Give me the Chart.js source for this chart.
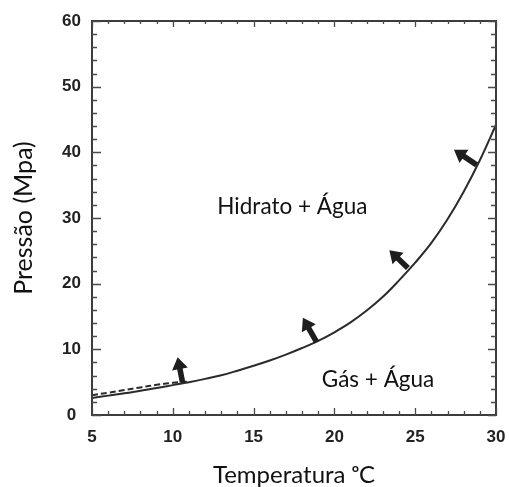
<!DOCTYPE html>
<html>
<head>
<meta charset="utf-8">
<script src="https://cdn.jsdelivr.net/npm/chart.js@4/dist/chart.umd.min.js"></script>
<style>
  html, body { margin: 0; padding: 0; background: #fff; }
  #wrap { width: 509px; height: 487px; }
</style>
</head>
<body>
<div id="wrap"><canvas id="c" width="509" height="487"></canvas></div>
<script>
// Temperature (°C) and equilibrium pressure (MPa)
const temperatures = [5,6,7,8,9,10,11,12,13,14,15,16,17,18,19,20,21,22,23,24,25,26,27,28,29,30];
const pressureSolid = [2.6,2.95,3.3,3.7,4.1,4.55,5.0,5.5,6.05,6.75,7.5,8.3,9.2,10.2,11.3,12.6,14.1,15.9,18.0,20.5,23.2,26.2,29.8,34.0,38.8,44.2];
const dashedTemps = [5,6,7,8,9,10,11];
const pressureDashed = [3.0,3.4,3.8,4.2,4.6,4.9,5.1];

// Arrows: start (on curve) and tip
const arrowFromT = [10.6, 18.9, 24.55, 28.8];
const arrowFromP = [5.0, 11.1, 22.4, 38.1];
const arrowToT = [10.3, 18.05, 23.4, 27.4];
const arrowToP = [8.8, 14.8, 25.1, 40.4];

// Region labels
const regionLabels = ['Hidrato + Água', 'Gás + Água'];
const regionLabelT = [17.4, 22.7];
const regionLabelP = [30.6, 4.3];

const xTicks = [5,10,15,20,25,30];
const yTicks = [0,10,20,30,40,50,60];

const xTitle = 'Temperatura ᵒC';
const yTitle = 'Pressão (Mpa)';

const INK = '#2b2b2b';

const framePlugin = {
  id: 'frameTicks',
  afterDatasetsDraw(chart) {
    const ctx = chart.ctx;
    const xs = chart.scales.x, ys = chart.scales.y;
    const a = chart.chartArea;
    ctx.save();
    // frame
    ctx.strokeStyle = '#3c3c3c';
    ctx.lineWidth = 2;
    ctx.strokeRect(a.left, a.top, a.right - a.left, a.bottom - a.top);
    ctx.lineWidth = 1.3;
    ctx.strokeStyle = '#4a4a4a';
    // x ticks every 1, major every 5
    for (let t = xs.min; t <= xs.max + 1e-9; t += 1) {
      const px = Math.round(xs.getPixelForValue(t)) + 0.5;
      const major = Math.abs(t % 5) < 1e-9;
      ctx.beginPath();
      ctx.moveTo(px, a.bottom); ctx.lineTo(px, a.bottom - (major ? 7 : 4));
      ctx.moveTo(px, a.top); ctx.lineTo(px, a.top + (major ? 6 : 3));
      ctx.stroke();
    }
    // y ticks every 2, major every 10
    for (let p = ys.min; p <= ys.max + 1e-9; p += 2) {
      const py = Math.round(ys.getPixelForValue(p)) + 0.5;
      const major = Math.abs(p % 10) < 1e-9;
      ctx.beginPath();
      ctx.moveTo(a.left, py); ctx.lineTo(a.left + (major ? 9 : 5), py);
      ctx.moveTo(a.right, py); ctx.lineTo(a.right - (major ? 8 : 5), py);
      ctx.stroke();
    }
    // arrows
    ctx.fillStyle = '#1e1e1e';
    for (let i = 0; i < arrowFromT.length; i++) {
      const x0 = xs.getPixelForValue(arrowFromT[i]);
      const y0 = ys.getPixelForValue(arrowFromP[i]);
      const x1 = xs.getPixelForValue(arrowToT[i]);
      const y1 = ys.getPixelForValue(arrowToP[i]);
      const ang = Math.atan2(y1 - y0, x1 - x0);
      const len = Math.hypot(x1 - x0, y1 - y0);
      const headLen = 12, headW = 8, shaftW = 2.8;
      ctx.save();
      ctx.translate(x0, y0);
      ctx.rotate(ang);
      ctx.beginPath();
      ctx.moveTo(0, -shaftW);
      ctx.lineTo(len - headLen, -shaftW);
      ctx.lineTo(len - headLen, -headW);
      ctx.lineTo(len, 0);
      ctx.lineTo(len - headLen, headW);
      ctx.lineTo(len - headLen, shaftW);
      ctx.lineTo(0, shaftW);
      ctx.closePath();
      ctx.fill();
      ctx.restore();
    }
    // region labels
    ctx.fillStyle = '#111';
    ctx.font = '22.5px Lato';
    ctx.textAlign = 'center';
    ctx.textBaseline = 'alphabetic';
    for (let i = 0; i < regionLabels.length; i++) {
      ctx.fillText(regionLabels[i], xs.getPixelForValue(regionLabelT[i]), ys.getPixelForValue(regionLabelP[i]));
    }
    ctx.restore();
  }
};

new Chart(document.getElementById('c'), {
  type: 'line',
  data: {
    datasets: [
      {
        label: 'Equilíbrio',
        data: temperatures.map((t, i) => ({x: t, y: pressureSolid[i]})),
        borderColor: INK,
        borderWidth: 2,
        pointRadius: 0,
        tension: 0.4,
        fill: false
      },
      {
        label: 'Equilíbrio (tracejado)',
        data: dashedTemps.map((t, i) => ({x: t, y: pressureDashed[i]})),
        borderColor: INK,
        borderWidth: 2,
        borderDash: [6, 3],
        pointRadius: 0,
        tension: 0.4,
        fill: false
      }
    ]
  },
  options: {
    responsive: false,
    animation: false,
    events: [],
    layout: { padding: { left: 0, top: 21, right: 13, bottom: 0 } },
    plugins: { legend: { display: false }, tooltip: { enabled: false } },
    scales: {
      x: {
        type: 'linear', min: 5, max: 30,
        afterBuildTicks: s => { s.ticks = xTicks.map(v => ({value: v})); },
        afterFit: s => { s.height = 72; s.paddingLeft = 0; s.paddingRight = 0; },
        grid: { display: false, drawTicks: false },
        border: { display: false },
        ticks: { padding: 12, color: '#222', font: { family: 'Liberation Sans', weight: 'bold', size: 17 } },
        title: { display: true, text: xTitle, color: '#111', font: { family: 'Lato', size: 24, lineHeight: 1 }, padding: { top: 0, bottom: 0 } }
      },
      y: {
        type: 'linear', min: 0, max: 60,
        afterBuildTicks: s => { s.ticks = yTicks.map(v => ({value: v})); },
        afterFit: s => { s.width = 92; s.paddingTop = 0; s.paddingBottom = 0; },
        grid: { display: false, drawTicks: false },
        border: { display: false },
        ticks: { padding: 11, crossAlign: 'center', color: '#222', font: { family: 'Liberation Sans', weight: 'bold', size: 17 } },
        title: { display: true, text: yTitle, color: '#111', font: { family: 'Lato', size: 25, lineHeight: 1 }, padding: { top: 11, bottom: 0 } }
      }
    }
  },
  plugins: [framePlugin]
});
</script>
</body>
</html>
